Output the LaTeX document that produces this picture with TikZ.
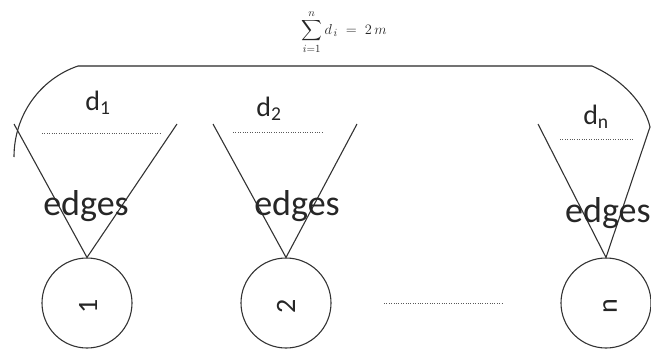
\documentclass[tikz,border=0pt]{standalone}
\usepackage{exscale}
\usepackage[no-math]{fontspec}
\setmainfont{Carlito}
\begin{document}
\begin{tikzpicture}[x=1pt,y=-1pt,
  ln/.style={line width=1.1pt, draw=black!80},
  topln/.style={line width=1.7pt, draw=black!55},
  dotln/.style={draw=black!65, line width=1pt, dash pattern=on 1pt off 1.4pt},
  vtx/.style={circle, draw=black!80, line width=1.1pt, minimum size=90pt, inner sep=0pt},
  vlab/.style={font=\fontsize{28}{28}\selectfont, rotate=90, text=black!85, inner sep=0pt},
  dlab/.style={font=\fontsize{28}{28}\selectfont, text=black!85, inner sep=0pt},
  elab/.style={font=\fontsize{36}{36}\selectfont, text=black!85, inner sep=0pt}]
\useasboundingbox (0,0) rectangle (651,351);

% formula
\node[inner sep=0pt, font=\fontsize{15}{15}\selectfont, text=black!85] (sum) at (344,32)
  {$\displaystyle\sum_{i=1}^{n} d_{\,i} \;=\; 2\,m$};

% vertices
\node[vtx] (c1) at (87,303) {};
\node[vtx] (c2) at (286,303) {};
\node[vtx] (cn) at (606,303) {};
\node[vlab] (l1) at (88,306) {1};
\node[vlab] (l2) at (286,306) {2};
\node[vlab] (ln) at (610,306) {n};

% triangle corners
\coordinate (t1l) at (14,124);
\coordinate (t1r) at (177,124);
\coordinate (t2l) at (213,124);
\coordinate (t2r) at (357,124);
\coordinate (tnl) at (538,124);
\coordinate (tnr) at (650,127);

% top enclosing curve
\coordinate (arcL) at (14,157);
\coordinate (topL) at (78,66);
\coordinate (topR) at (592,66);
\draw[ln] (arcL) .. controls (14,115) and (40,79) .. (topL);
\draw[topln] (topL) -- (topR);
\draw[ln] (topR) .. controls (616,76) and (644,100) .. (tnr);

% triangles
\draw[ln] (t1l) -- (c1.north) -- (t1r);
\draw[ln] (t2l) -- (c2.north) -- (t2r);
\draw[ln] (tnl) -- (cn.north) -- (tnr);

% dotted lines
\coordinate (d1a) at (42,133); \coordinate (d1b) at (160,133);
\coordinate (d2a) at (233,132); \coordinate (d2b) at (323,132);
\coordinate (dna) at (560,139); \coordinate (dnb) at (633,139);
\draw[dotln] (d1a) -- (d1b);
\draw[dotln] (d2a) -- (d2b);
\draw[dotln] (dna) -- (dnb);
\coordinate (m1) at (384,303); \coordinate (m2) at (503,303);
\draw[dotln] (m1) -- (m2);

% labels
\node[dlab] (dl1) at (98,103) {d\textsubscript{1}};
\node[dlab] (dl2) at (269,109) {d\textsubscript{2}};
\node[dlab] (dln) at (596,117) {d\textsubscript{n}};
\node[elab, anchor=base] (e1) at (86,215) {edges};
\node[elab, anchor=base] (e2) at (297,215) {edges};
\node[elab, anchor=base west] (en) at (565,222) {edges};
\end{tikzpicture}
\end{document}
